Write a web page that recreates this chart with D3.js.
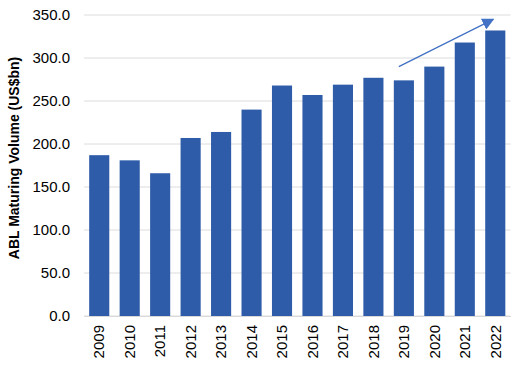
<!DOCTYPE html>
<html>
<head>
<meta charset="utf-8">
<script src="https://cdn.jsdelivr.net/npm/d3@7"></script>
<style>
  html, body { margin: 0; padding: 0; background: #fff; }
  svg { display: block; }
</style>
</head>
<body>
<script>
const years = ["2009","2010","2011","2012","2013","2014","2015","2016","2017","2018","2019","2020","2021","2022"];
const volumes = [187, 181, 166, 207, 214, 240, 268, 257, 269, 277, 274, 290, 318, 332];
const yTicks = [0, 50, 100, 150, 200, 250, 300, 350];
const yLabel = "ABL Maturing Volume (US$bn)";

const W = 512, H = 372;
const margin = { left: 84, right: 1.5, top: 15, bottom: 56 };

const svg = d3.select("body").append("svg").attr("width", W).attr("height", H);

const x = d3.scaleBand().domain(years).range([margin.left, W - margin.right]).paddingInner(0.34).paddingOuter(0.17);
const y = d3.scaleLinear().domain([0, 350]).range([H - margin.bottom, margin.top]);

// gridlines
svg.append("g").selectAll("line").data(yTicks).join("line")
  .attr("x1", margin.left).attr("x2", W - margin.right)
  .attr("y1", d => y(d)).attr("y2", d => y(d))
  .attr("stroke", "#dcdcdc").attr("stroke-width", 1);

// y axis labels
const yAxis = d3.axisLeft(y).tickValues(yTicks).tickFormat(d3.format(".1f")).tickSize(0).tickPadding(14);
const gy = svg.append("g").attr("transform", `translate(${margin.left},0)`).call(yAxis);
gy.select(".domain").remove();
gy.selectAll("text").attr("font-family", "Arial, 'Liberation Sans', sans-serif").attr("font-size", 15).attr("fill", "#000");

// bars
svg.append("g").selectAll("rect").data(volumes).join("rect")
  .attr("x", (d, i) => x(years[i]))
  .attr("width", x.bandwidth())
  .attr("y", d => y(d))
  .attr("height", d => y(0) - y(d))
  .attr("fill", "#2e5ca9");

// x axis
const xAxis = d3.axisBottom(x).tickSize(0).tickPadding(0);
const gx = svg.append("g").attr("transform", `translate(0,${y(0)})`).call(xAxis);
gx.select(".domain").attr("stroke", "#d9d9d9");
gx.selectAll("text")
  .attr("font-family", "Arial, 'Liberation Sans', sans-serif").attr("font-size", 15).attr("fill", "#000")
  .attr("transform", "rotate(-90)")
  .attr("text-anchor", "end")
  .attr("x", -9).attr("y", 0).attr("dy", "0.35em");

// y axis title
svg.append("text")
  .attr("transform", `translate(19,158) rotate(-90)`)
  .attr("text-anchor", "middle")
  .attr("font-family", "Arial, 'Liberation Sans', sans-serif")
  .attr("font-size", 14).attr("font-weight", "bold").attr("fill", "#000")
  .text(yLabel);

// trend arrow
const defs = svg.append("defs");
defs.append("marker").attr("id", "ah").attr("viewBox", "0 0 10 10")
  .attr("refX", 9).attr("refY", 5).attr("markerWidth", 12).attr("markerHeight", 12)
  .attr("markerUnits", "userSpaceOnUse").attr("orient", "auto")
  .append("path").attr("d", "M0,0 L10,5 L0,10 Z").attr("fill", "#4472c4");
// arrow anchored to the 2019 and 2022 bands
const ax1 = x("2019") + 5, ay1 = y(290);
const ax2 = x("2022") + x.bandwidth() * 0.4, ay2 = y(345);
svg.append("line")
  .attr("x1", ax1).attr("y1", ay1).attr("x2", ax2).attr("y2", ay2)
  .attr("stroke", "#4472c4").attr("stroke-width", 1.3)
  .attr("marker-end", "url(#ah)");
</script>
</body>
</html>
